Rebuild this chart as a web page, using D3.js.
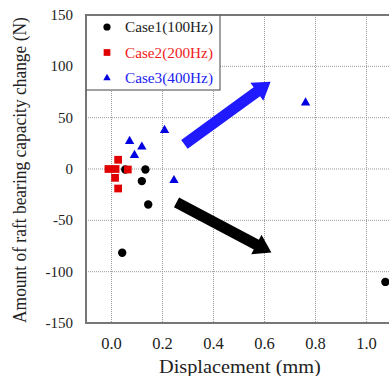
<!DOCTYPE html>
<html>
<head>
<meta charset="utf-8">
<script src="https://cdn.jsdelivr.net/npm/d3@7"></script>
<style>
  body { margin: 0; background: #fff; }
</style>
</head>
<body>
<div id="chart"></div>
<script>
// values
const case1X = [0.054, 0.133, 0.119, 0.144, 0.042, 1.074];
const case1Y = [-0.5, -0.5, -11.8, -34.6, -81.6, -110];
const case2X = [-0.012, 0.016, 0.026, 0.064, 0.014, 0.026];
const case2Y = [0, 0, 9, -0.5, -8.6, -19];
const case3X = [0.071, 0.119, 0.09, 0.208, 0.245, 0.761];
const case3Y = [27, 21.6, 13.4, 37.8, -11, 64.5];

const seriesNames = ["Case1(100Hz)", "Case2(200Hz)", "Case3(400Hz)"];
const xTicks = [0.0, 0.2, 0.4, 0.6, 0.8, 1.0];
const yTicks = [-150, -100, -50, 0, 50, 100, 150];

// trend arrows (tail, tip) in data units
const upArrow = [[0.286, 24], [0.624, 85]];
const downArrow = [[0.255, -32.6], [0.627, -81.3]];

const width = 389, height = 376;
const margin = { top: 15, left: 86, bottom: 53 };
const serif = "'Liberation Serif', 'Times New Roman', serif";

const svg = d3.select("#chart").append("svg")
  .attr("width", width)
  .attr("height", height)
  .attr("font-family", serif);

const x = d3.scaleLinear().domain([-0.1, 1.2]).range([margin.left, margin.left + 1.3 * 255]);
const y = d3.scaleLinear().domain([-150, 150]).range([height - margin.bottom, margin.top]);

// the source font is a bit wider than Liberation Serif: stretch a text to a set width
function fitText(sel, x0, y0, w, rot) {
  const len = sel.node().getComputedTextLength();
  sel.attr("transform", `translate(${x0},${y0})${rot ? " rotate(-90)" : ""} scale(${w / len},1)`);
}

// grid
svg.append("g")
  .selectAll("line")
  .data(xTicks)
  .join("line")
  .attr("x1", d => x(d)).attr("x2", d => x(d))
  .attr("y1", y(150)).attr("y2", y(-150))
  .attr("stroke", "#999").attr("stroke-width", 1).attr("stroke-dasharray", "1,1");

svg.append("g")
  .selectAll("line")
  .data(yTicks.filter(d => Math.abs(d) < 150))
  .join("line")
  .attr("x1", x(-0.1)).attr("x2", x(1.2))
  .attr("y1", d => y(d)).attr("y2", d => y(d))
  .attr("stroke", "#999").attr("stroke-width", 1).attr("stroke-dasharray", "1,1");

// plot frame
svg.append("rect")
  .attr("x", x(-0.1)).attr("y", y(150))
  .attr("width", x(1.2) - x(-0.1)).attr("height", y(-150) - y(150))
  .attr("fill", "none").attr("stroke", "#777").attr("stroke-width", 2);

// tick labels
svg.append("g")
  .selectAll("text")
  .data(xTicks)
  .join("text")
  .attr("x", d => x(d)).attr("y", 349)
  .attr("text-anchor", "middle").attr("font-size", 16.5).attr("fill", "#222")
  .text(d => d.toFixed(1));

svg.append("g")
  .selectAll("text")
  .data(yTicks)
  .join("text")
  .attr("x", 73).attr("y", d => y(d) + 5)
  .attr("text-anchor", "end").attr("font-size", 15).attr("fill", "#222")
  .text(d => d);

// axis titles
const xTitle = svg.append("text")
  .attr("font-size", 19).attr("fill", "#222")
  .text("Displacement (mm)");
fitText(xTitle, 159, 372.5, 162, false);

const yTitle = svg.append("text")
  .attr("font-size", 18.5).attr("fill", "#222")
  .text("Amount of raft bearing capacity change (N)");
fitText(yTitle, 26, 323, 306, true);

// arrows
function arrowPath(p, color) {
  const [x0, y0] = [x(p[0][0]), y(p[0][1])];
  const [x1, y1] = [x(p[1][0]), y(p[1][1])];
  const len = Math.hypot(x1 - x0, y1 - y0);
  const ux = (x1 - x0) / len, uy = (y1 - y0) / len;
  const nx = -uy, ny = ux;
  const sw = 5.5, hw = 11, hl = 17;
  const bx = x1 - ux * hl, by = y1 - uy * hl;
  const pts = [
    [x0 + nx * sw, y0 + ny * sw],
    [bx + nx * sw, by + ny * sw],
    [bx + nx * hw, by + ny * hw],
    [x1, y1],
    [bx - nx * hw, by - ny * hw],
    [bx - nx * sw, by - ny * sw],
    [x0 - nx * sw, y0 - ny * sw]
  ];
  svg.append("polygon")
    .attr("points", pts.map(q => q.join(",")).join(" "))
    .attr("fill", color);
}
arrowPath(upArrow, "#1f1aff");
arrowPath(downArrow, "#000");

// legend box
svg.append("rect")
  .attr("x", x(-0.1)).attr("y", y(150))
  .attr("width", 220 - x(-0.1)).attr("height", 90 - y(150))
  .attr("fill", "#fff").attr("stroke", "#444").attr("stroke-width", 1);

svg.append("line")
  .attr("x1", x(-0.1)).attr("x2", 220)
  .attr("y1", y(150)).attr("y2", y(150))
  .attr("stroke", "#777").attr("stroke-width", 2);
svg.append("line")
  .attr("x1", x(-0.1)).attr("x2", x(-0.1))
  .attr("y1", y(150)).attr("y2", 90)
  .attr("stroke", "#777").attr("stroke-width", 2);

const colors = ["#000", "#e00000", "#0000e0"];
const symbols = [d3.symbolCircle, d3.symbolSquare, d3.symbolTriangle];
const sizes = [55, 60, 38];

const legend = svg.append("g")
  .selectAll("g")
  .data(seriesNames)
  .join("g")
  .attr("transform", (d, i) => `translate(107,${27 + i * 25.5})`);

legend.append("path")
  .attr("d", (d, i) => d3.symbol(symbols[i], i === 2 ? 24 : sizes[i] * 0.75)())
  .attr("fill", (d, i) => colors[i]);

legend.append("text")
  .attr("font-size", 15.5)
  .attr("fill", (d, i) => i === 0 ? "#222" : (i === 1 ? "#f02020" : "#2020f0"))
  .text(d => d)
  .each(function () { fitText(d3.select(this), 18, 5, 88, false); });

// points
const series = [
  d3.zip(case1X, case1Y),
  d3.zip(case2X, case2Y),
  d3.zip(case3X, case3Y)
];

series.forEach((pts, i) => {
  svg.append("g")
    .selectAll("path")
    .data(pts)
    .join("path")
    .attr("transform", d => `translate(${x(d[0])},${y(d[1])})`)
    .attr("d", d3.symbol(symbols[i], sizes[i])())
    .attr("fill", colors[i]);
});
</script>
</body>
</html>
